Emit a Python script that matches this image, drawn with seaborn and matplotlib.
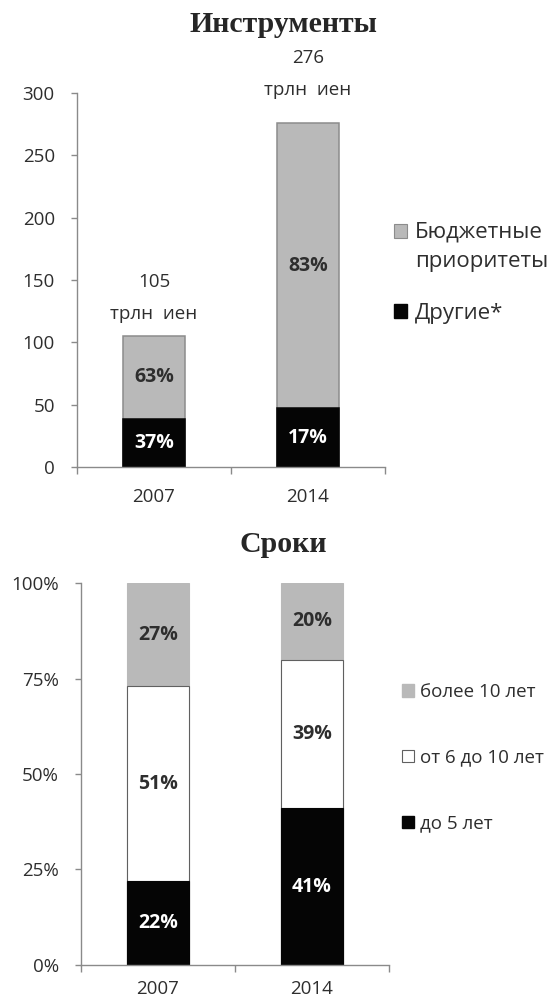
import matplotlib
matplotlib.use("Agg")
import matplotlib.pyplot as plt
import seaborn as sns
import numpy as np
import pandas as pd
from matplotlib.patches import Patch
from matplotlib.legend_handler import HandlerPatch
from matplotlib.ticker import FixedLocator

# ---------------- data ----------------
years = ["2007", "2014"]
totals_trln = [105, 276]                 # trillion yen
share_other = [37, 17]                   # % "Другие*"
share_budget = [63, 83]                  # % "Бюджетные приоритеты"
total_labels = ["105\nтрлн  иен", "276\nтрлн  иен"]

term_upto5 = [22, 41]                    # % до 5 лет
term_6to10 = [51, 39]                    # % от 6 до 10 лет
term_over10 = [27, 20]                   # % более 10 лет

top_yticks = [0, 50, 100, 150, 200, 250, 300]
bot_yticks = [0, 25, 50, 75, 100]
bot_yticklabels = ["0%", "25%", "50%", "75%", "100%"]

title_top = "Инструменты"
title_bot = "Сроки"
legend_top = ["Бюджетные\nприоритеты", "Другие*"]
legend_bot = ["более 10 лет", "от 6 до 10 лет", "до 5 лет"]

# ---------------- style ----------------
sns.set_style("white")
plt.rcParams["font.family"] = ["Open Sans", "DejaVu Sans"]
GREY = "#b9b9b9"
GREY_EDGE = "#8c8c8c"
BLACK = "#050505"
WHITE = "#ffffff"
TXT = "#2e2e2e"
SPINE = "#8a8a8a"
FS_TICK = 13.5
FS_LAB = 14
FS_LEG = 16
W = 0.4


class HandlerShift(HandlerPatch):
    """Legend patch shifted up so that it sits beside the first line of a 2-line label."""
    def __init__(self, dy, **kw):
        super().__init__(**kw)
        self.dy = dy

    def create_artists(self, legend, orig_handle, xdescent, ydescent, width, height,
                       fontsize, trans):
        return super().create_artists(legend, orig_handle, xdescent, ydescent - self.dy,
                                      width, height, fontsize, trans)


fig = plt.figure(figsize=(5.54, 10.02), dpi=100)
ax1 = fig.add_axes([0.139, 0.534, 0.556, 0.373])
ax2 = fig.add_axes([0.146, 0.037, 0.556, 0.381])

# ---------- top chart ----------
other_vals = [t * s / 100 for t, s in zip(totals_trln, share_other)]
df_top = pd.DataFrame({"year": years, "total": totals_trln, "other": other_vals})
sns.barplot(data=df_top, x="year", y="total", color=GREY, saturation=1, width=W,
            edgecolor=GREY_EDGE, linewidth=1.1, ax=ax1)
sns.barplot(data=df_top, x="year", y="other", color=BLACK, saturation=1, width=W,
            edgecolor=BLACK, linewidth=1.1, ax=ax1)

for i, (tot, oth, so, sb) in enumerate(zip(totals_trln, other_vals, share_other, share_budget)):
    ax1.text(i, oth / 2, f"{so}%", ha="center", va="center", color="white",
             fontsize=FS_LAB, fontweight="bold")
    ax1.text(i, oth + (tot - oth) / 2, f"{sb}%", ha="center",
             va="center", color=TXT, fontsize=FS_LAB, fontweight="bold")

label_offsets = [9.5, 17]   # points above bar top
for i, (tot, lab) in enumerate(zip(totals_trln, total_labels)):
    ax1.annotate(lab, xy=(i, tot), xytext=(0, label_offsets[i]), textcoords="offset points",
                 ha="center", va="bottom", fontsize=FS_TICK, color=TXT, linespacing=2.0)

ax1.set_ylim(0, 300)
ax1.set_xlim(-0.5, 1.5)
ax1.set_yticks(top_yticks)
ax1.set_yticklabels([str(v) for v in top_yticks])

# ---------- bottom chart ----------
cum_low = term_upto5
cum_mid = [a + b for a, b in zip(term_upto5, term_6to10)]
cum_top = [a + b + c for a, b, c in zip(term_upto5, term_6to10, term_over10)]
df_bot = pd.DataFrame({"year": years, "top": cum_top, "mid": cum_mid, "low": cum_low})
sns.barplot(data=df_bot, x="year", y="top", color=GREY, saturation=1, width=W,
            edgecolor=GREY, linewidth=0.8, ax=ax2)
sns.barplot(data=df_bot, x="year", y="mid", color=WHITE, saturation=1, width=W,
            edgecolor="#606060", linewidth=0.8, ax=ax2)
sns.barplot(data=df_bot, x="year", y="low", color=BLACK, saturation=1, width=W,
            edgecolor=BLACK, linewidth=0.8, ax=ax2)

for i in range(len(years)):
    ax2.text(i, cum_low[i] / 2, f"{term_upto5[i]}%", ha="center", va="center",
             color="white", fontsize=FS_LAB, fontweight="bold")
    ax2.text(i, cum_low[i] + term_6to10[i] / 2, f"{term_6to10[i]}%", ha="center",
             va="center", color=TXT, fontsize=FS_LAB, fontweight="bold")
    ax2.text(i, cum_mid[i] + term_over10[i] / 2, f"{term_over10[i]}%", ha="center",
             va="center", color=TXT, fontsize=FS_LAB, fontweight="bold")

ax2.set_ylim(0, 100)
ax2.set_xlim(-0.5, 1.5)
ax2.set_yticks(bot_yticks)
ax2.set_yticklabels(bot_yticklabels)

# ---------- common axis styling ----------
for ax in (ax1, ax2):
    ax.set_xlabel("")
    ax.set_ylabel("")
    for s in ("top", "right"):
        ax.spines[s].set_visible(False)
    for s in ("left", "bottom"):
        ax.spines[s].set_color(SPINE)
        ax.spines[s].set_linewidth(1.0)
    ax.tick_params(axis="y", which="major", length=4, width=1, color=SPINE,
                   labelsize=FS_TICK, labelcolor=TXT, pad=12, direction="out", left=True)
    ax.tick_params(axis="x", which="major", length=0, labelsize=FS_TICK,
                   labelcolor=TXT, pad=15)
    ax.xaxis.set_minor_locator(FixedLocator([-0.5, 0.5, 1.5]))
    ax.tick_params(axis="x", which="minor", length=5, width=1, color=SPINE,
                   direction="out", bottom=True)
ax2.tick_params(axis="x", which="major", pad=11)

# ---------- titles ----------
fig.text(283 / 554, 1 - 24 / 1002, title_top, ha="center", va="center",
         fontsize=21.5, fontweight="bold", family=["Liberation Serif", "DejaVu Serif"])
fig.text(283 / 554, 1 - 545 / 1002, title_bot, ha="center", va="center",
         fontsize=21.5, fontweight="bold", family=["Liberation Serif", "DejaVu Serif"])

# ---------- legends ----------
h_top = [Patch(facecolor=GREY, edgecolor=GREY_EDGE, linewidth=0.8),
         Patch(facecolor=BLACK, edgecolor=BLACK)]
leg1 = fig.legend(h_top, legend_top, loc="upper left", bbox_to_anchor=(374 / 554, 1 - 201 / 1002),
                  frameon=False, fontsize=FS_LEG, handlelength=0.6, handleheight=0.6,
                  handletextpad=0.35, labelspacing=1.4, labelcolor=TXT,
                  handler_map={h_top[0]: HandlerShift(dy=11)})
for t in leg1.get_texts():
    t.set_linespacing(1.55)

h_bot = [Patch(facecolor=GREY, edgecolor=GREY),
         Patch(facecolor=WHITE, edgecolor="#606060", linewidth=0.8),
         Patch(facecolor=BLACK, edgecolor=BLACK)]
fig.legend(h_bot, legend_bot, loc="upper left", bbox_to_anchor=(385 / 554, 1 - 666 / 1002),
           frameon=False, fontsize=13.5, handlelength=0.65, handleheight=0.65,
           handletextpad=0.3, labelspacing=2.55, labelcolor=TXT)

fig.savefig("out.png", dpi=100, facecolor="white")
